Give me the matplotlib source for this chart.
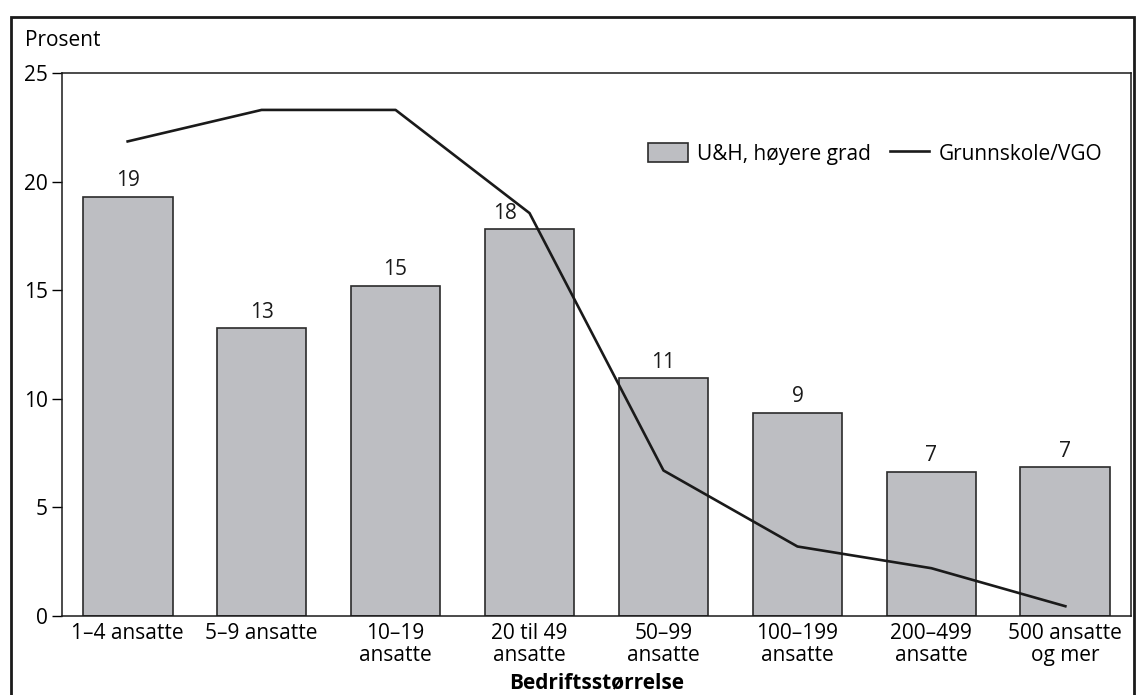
import matplotlib.pyplot as plt
import numpy as np
from matplotlib.patches import Rectangle

plt.rcParams['font.family'] = ['Open Sans', 'DejaVu Sans']

categories = ['1–4 ansatte', '5–9 ansatte', '10–19\nansatte', '20 til 49\nansatte',
              '50–99\nansatte', '100–199\nansatte', '200–499\nansatte', '500 ansatte\nog mer']
uh_hoyere = [19.3, 13.25, 15.2, 17.8, 10.95, 9.35, 6.65, 6.85]
uh_labels = ['19', '13', '15', '18', '11', '9', '7', '7']
grunnskole = [21.85, 23.3, 23.3, 18.55, 6.7, 3.2, 2.2, 0.45]

fs = 15
W, H = 1137, 695
fig = plt.figure(figsize=(W / 100, H / 100), dpi=100)
ax = fig.add_axes([62 / W, 1 - 616 / H, (1131 - 62) / W, (616 - 73) / H])

x = np.arange(len(categories))
bars = ax.bar(x, uh_hoyere, width=0.67, color='#bdbec2', edgecolor='#2b2b2b',
              linewidth=1.2, label='U&H, høyere grad', zorder=2)
line, = ax.plot(x, grunnskole, color='#1a1a1a', linewidth=1.9, label='Grunnskole/VGO', zorder=3)

# value labels, the one under the line nudged left like the original
shift = [0, 0, 0, -18, 0, 0, 0, 0]
for xi, v, lab, dx in zip(x, uh_hoyere, uh_labels, shift):
    ax.annotate(lab, (xi, v), xytext=(dx, 4), textcoords='offset points',
                ha='center', va='bottom', fontsize=fs, color='#1a1a1a')

ax.set_xlim(-0.49, 7.49)
ax.set_ylim(0, 25)
ax.set_yticks([0, 5, 10, 15, 20, 25])
ax.set_xticks(x)
ax.set_xticklabels(categories, fontsize=fs, linespacing=1.05)
ax.tick_params(axis='x', length=0, pad=5)
ax.tick_params(axis='y', length=7, width=1, labelsize=fs, pad=3)
for s in ax.spines.values():
    s.set_linewidth(1.1)
    s.set_color('#1a1a1a')

ax.set_xlabel('Bedriftsstørrelse', fontsize=fs, fontweight='bold', labelpad=5)

ax.legend([bars, line], ['U&H, høyere grad', 'Grunnskole/VGO'], ncol=2, frameon=False,
          loc='center right', bbox_to_anchor=(0.981, 0.851),
          fontsize=fs, handlelength=1.9, handleheight=1.0, handletextpad=0.45,
          columnspacing=0.9, borderaxespad=0)

fig.text(25 / W, 1 - 40 / H, 'Prosent', fontsize=fs, va='center', ha='left')

# outer frame
fig.patches.append(Rectangle((11 / W, -0.1), (1134 - 11) / W, 1.1 - 17 / H,
                             transform=fig.transFigure, fill=False,
                             edgecolor='#1a1a1a', linewidth=2.0))

fig.savefig('out.png', dpi=100)
